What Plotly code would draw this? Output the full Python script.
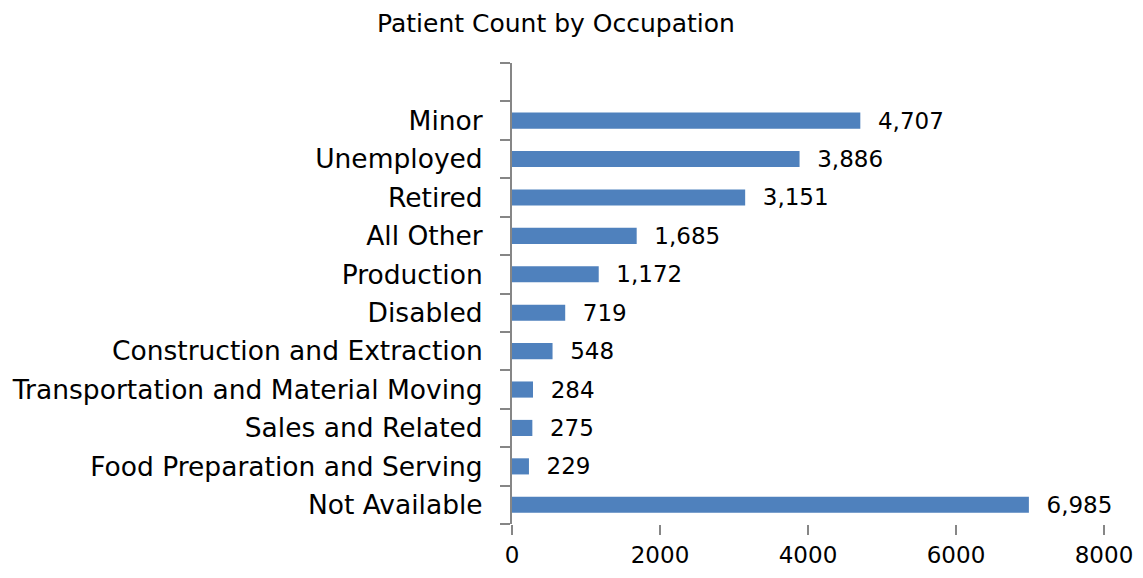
import plotly.graph_objects as go

categories = ["Not Available", "Food Preparation and Serving", "Sales and Related",
              "Transportation and Material Moving", "Construction and Extraction",
              "Disabled", "Production", "All Other", "Retired", "Unemployed", "Minor"]
counts = [6985, 229, 275, 284, 548, 719, 1172, 1685, 3151, 3886, 4707]
x_ticks = [0, 2000, 4000, 6000, 8000]

FONT = "DejaVu Sans"
GRAY = "#868686"
idx = list(range(len(categories)))
bounds = [i - 0.5 for i in range(len(categories) + 2)]

fig = go.Figure(go.Bar(
    x=counts, y=idx, orientation="h",
    marker=dict(color="#4F81BD", line=dict(width=0)),
    width=0.42,
    text=[f"\u00a0\u00a0{v:,}" for v in counts],
    textposition="outside",
    constraintext="none",
    textfont=dict(family=FONT, size=23, color="#000000"),
    cliponaxis=False,
))

fig.update_layout(
    width=1143, height=578,
    margin=dict(l=504, r=47, t=55, b=62, autoexpand=False),
    paper_bgcolor="white", plot_bgcolor="white",
    showlegend=False,
    title=dict(text="Patient Count by Occupation", x=0.4794, xanchor="center",
               y=0.973, yanchor="middle",
               font=dict(family=FONT, size=25, color="#000000")),
    font=dict(family=FONT, color="#000000"),
    xaxis=dict(range=[0, 8000], tickvals=x_ticks, ticktext=[str(v) for v in x_ticks],
               ticks="outside", ticklen=10, tickwidth=2, tickcolor=GRAY,
               showline=False, showgrid=False, zeroline=False, automargin=False,
               tickfont=dict(family=FONT, size=23, color="#000000")),
    yaxis=dict(range=[-0.5, len(categories) + 0.5], tickmode="array",
               tickvals=idx, ticktext=categories, ticks="",
               showline=True, linecolor=GRAY, linewidth=2,
               showgrid=False, zeroline=False, ticklabelstandoff=22, automargin=False,
               tickfont=dict(family=FONT, size=26.5, color="#000000"),
               minor=dict(tickmode="array", tickvals=bounds, ticks="outside",
                          ticklen=10, tickwidth=2, tickcolor=GRAY, showgrid=False)),
)

fig.write_html("out.html")
